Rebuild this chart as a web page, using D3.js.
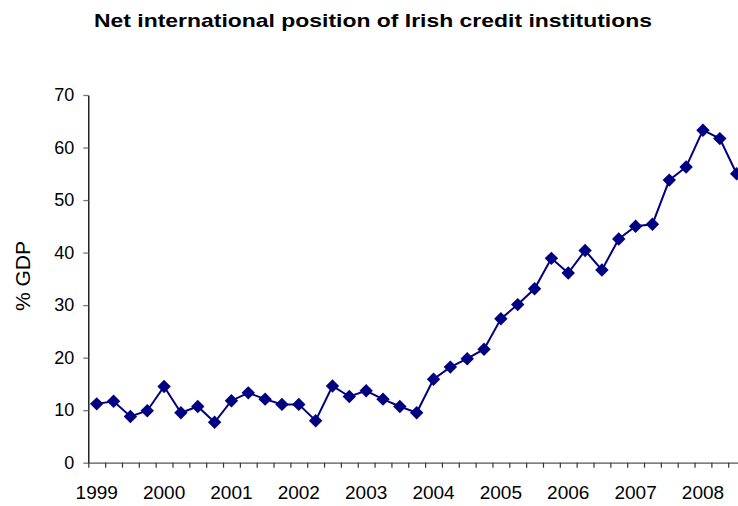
<!DOCTYPE html>
<html>
<head>
<meta charset="utf-8">
<script src="https://cdn.jsdelivr.net/npm/d3@7"></script>
<style>
  body { margin: 0; background: #fff; }
  text { font-family: "Liberation Sans", Arial, sans-serif; }
</style>
</head>
<body>
<div class="chart"></div>
<script>
// years shown on the axis, one label per first quarter
var years = ["1999", "2000", "2001", "2002", "2003", "2004", "2005", "2006", "2007", "2008"];

// quarterly values, % of GDP (1999Q1 .. 2008Q3)
var values = [11.2, 11.7, 8.8, 9.9, 14.5, 9.5, 10.7, 7.7, 11.8, 13.3,
              12.1, 11.1, 11.1, 8.0, 14.6, 12.6, 13.7, 12.1, 10.7, 9.5,
              15.9, 18.2, 19.8, 21.6, 27.4, 30.1, 33.1, 38.9, 36.1, 40.4,
              36.7, 42.6, 45.0, 45.4, 53.8, 56.3, 63.3, 61.7, 55.0];

var yTicks = [0, 10, 20, 30, 40, 50, 60, 70];

var quarters = [];
years.forEach(function (y) {
  for (var q = 1; q <= 4; q++) quarters.push(y + "Q" + q);
});
var data = values.map(function (v, i) { return { q: quarters[i], v: v }; });

var width = 738, height = 506;
var left = 88.3, step = 16.84;
var nCat = data.length;

var svg = d3.select(".chart").append("svg")
  .attr("width", width)
  .attr("height", height);

// title
svg.append("text")
  .attr("x", 373)
  .attr("y", 27)
  .attr("text-anchor", "middle")
  .attr("textLength", 558)
  .attr("lengthAdjust", "spacingAndGlyphs")
  .style("font-weight", "bold")
  .style("font-size", "19px")
  .text("Net international position of Irish credit institutions");

var y = d3.scaleLinear().domain([0, 70]).range([462.7, 95]);
// category boundaries
var xb = d3.scaleLinear().domain([0, nCat]).range([left, left + nCat * step]);
var x = d3.scaleBand().domain(data.map(function (d) { return d.q; }))
  .range([left, left + nCat * step]);

// y axis
var yAxis = svg.append("g")
  .attr("transform", "translate(" + left + ",0)")
  .call(d3.axisLeft(y).tickValues(yTicks).tickSize(5).tickSizeOuter(0).tickPadding(9));
yAxis.select(".domain").attr("stroke", "#000").attr("stroke-width", 1.3);
yAxis.selectAll(".tick line").attr("stroke", "#777").attr("stroke-width", 1.3);
yAxis.selectAll("text").style("font-size", "18px").attr("fill", "#000");

// x axis ticks on boundaries
var xAxis = svg.append("g")
  .attr("transform", "translate(0," + y(0) + ")")
  .call(d3.axisBottom(xb).tickValues(d3.range(0, nCat + 1)).tickFormat("").tickSize(5).tickSizeOuter(0));
xAxis.select(".domain").attr("stroke", "#555").attr("stroke-width", 1.3);
xAxis.selectAll(".tick line").attr("stroke", "#333").attr("stroke-width", 1.2);

// year labels at first quarter
var xLab = svg.append("g")
  .attr("transform", "translate(0," + y(0) + ")")
  .call(d3.axisBottom(x)
    .tickValues(years.map(function (yr) { return yr + "Q1"; }))
    .tickFormat(function (d) { return d.slice(0, 4); })
    .tickSize(0).tickPadding(23));
xLab.select(".domain").remove();
xLab.selectAll("text").style("font-size", "19px").attr("fill", "#000");

// y label
svg.append("text")
  .attr("transform", "translate(29.5,276) rotate(-90)")
  .attr("text-anchor", "middle")
  .style("font-size", "21px")
  .text("% GDP");

var line = d3.line()
  .x(function (d) { return x(d.q) + x.bandwidth() / 2; })
  .y(function (d) { return y(d.v); });

svg.append("path")
  .datum(data)
  .attr("fill", "none")
  .attr("stroke", "#000080")
  .attr("stroke-width", 2)
  .attr("d", line);

svg.selectAll(".pt")
  .data(data)
  .enter()
  .append("path")
  .attr("class", "pt")
  .attr("d", d3.symbol(d3.symbolSquare, 90))
  .attr("fill", "#000080")
  .attr("transform", function (d) {
    return "translate(" + (x(d.q) + x.bandwidth() / 2) + "," + y(d.v) + ") rotate(45)";
  });
</script>
</body>
</html>
